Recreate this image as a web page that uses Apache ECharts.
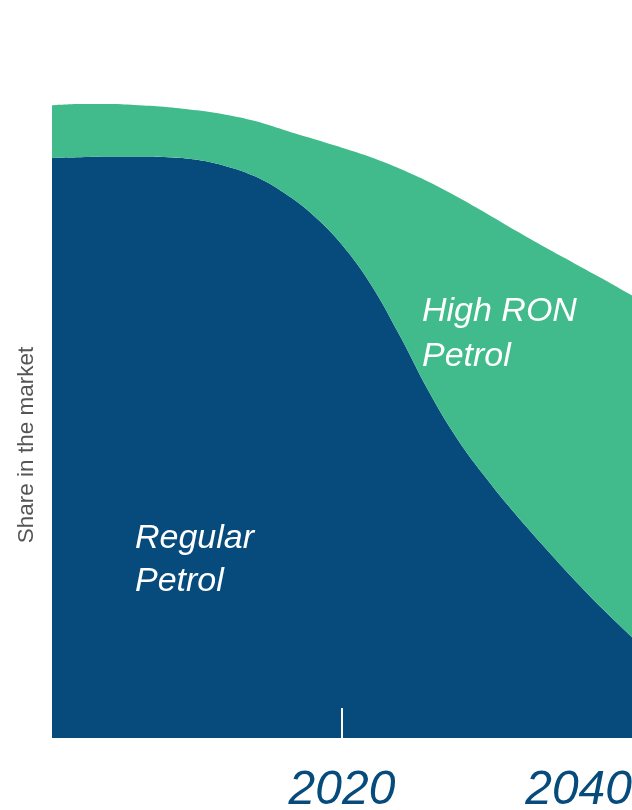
<!DOCTYPE html>
<html>
<head>
<meta charset="utf-8">
<style>
  html, body { margin: 0; padding: 0; background: #fff; overflow: hidden; }
  #chart { width: 632px; height: 810px; }
</style>
<script src="https://cdn.jsdelivr.net/npm/echarts@6/dist/echarts.min.js"></script>
</head>
<body>
<div id="chart"></div>
<script>
// years along the bottom
var years = ['2000', '2002', '2004', '2006', '2008', '2010', '2012', '2014', '2016', '2018', '2020',
             '2022', '2024', '2026', '2028', '2030', '2032', '2034', '2036', '2038', '2040'];
// share in the market (%)
var regularPetrol = [91.5, 91.6, 91.7, 91.7, 91.6, 91.2, 90.2, 88.6, 86.0, 82.5, 77.8,
                     71.5, 63.4, 54.6, 47.0, 40.8, 35.2, 30.0, 25.0, 20.3, 15.9];
var highRonPetrol = [8.3, 8.4, 8.3, 8.1, 7.9, 7.8, 8.1, 8.7, 9.9, 12.0, 15.3,
                     20.1, 26.4, 33.1, 38.3, 41.9, 44.8, 47.4, 49.9, 52.1, 53.9];
var labelYears = ['2020', '2040'];
var tickYears = ['2020'];

var navy = '#064b7b';
var green = '#41bb8c';

var chart = echarts.init(document.getElementById('chart'));

var option = {
  animation: false,
  grid: { left: 52, right: 0, top: 104, bottom: 72, outerBoundsMode: 'none' },
  xAxis: {
    type: 'category',
    data: years,
    boundaryGap: false,
    z: 10,
    axisLine: { show: false },
    axisTick: {
      show: true,
      inside: true,
      length: 30,
      alignWithLabel: true,
      interval: function (i, v) { return tickYears.indexOf(v) >= 0; },
      lineStyle: { color: '#fff', width: 2 }
    },
    axisLabel: {
      interval: function (i, v) { return labelYears.indexOf(v) >= 0; },
      alignMaxLabel: 'right',
      margin: 29,
      color: navy,
      fontFamily: 'Liberation Sans',
      fontStyle: 'italic',
      fontSize: 48
    },
    splitLine: { show: false }
  },
  yAxis: {
    type: 'value',
    min: 0,
    max: 100,
    show: false
  },
  series: [
    {
      name: 'Regular Petrol',
      type: 'line',
      stack: 'share',
      smooth: 0.4,
      showSymbol: false,
      lineStyle: { width: 0 },
      itemStyle: { color: navy },
      areaStyle: { color: navy, opacity: 1 },
      data: regularPetrol
    },
    {
      name: 'High RON Petrol',
      type: 'line',
      stack: 'share',
      smooth: 0.4,
      showSymbol: false,
      lineStyle: { width: 0 },
      itemStyle: { color: green },
      areaStyle: { color: green, opacity: 1 },
      data: highRonPetrol
    }
  ],
  graphic: [
    {
      type: 'text',
      z: 100,
      x: 27,
      y: 445,
      rotation: Math.PI / 2,
      style: {
        text: 'Share in the market',
        fill: '#555',
        font: '22.5px "Liberation Sans"',
        align: 'center',
        verticalAlign: 'middle'
      }
    },
    {
      type: 'text',
      z: 100,
      left: 422,
      top: 289,
      style: {
        text: 'High RON\nPetrol',
        fill: '#fff',
        font: 'italic 34px "Liberation Sans"',
        lineHeight: 45
      }
    },
    {
      type: 'text',
      z: 100,
      left: 135,
      top: 517,
      style: {
        text: 'Regular\nPetrol',
        fill: '#fff',
        font: 'italic 34px "Liberation Sans"',
        lineHeight: 43
      }
    }
  ]
};

chart.setOption(option);
</script>
</body>
</html>
